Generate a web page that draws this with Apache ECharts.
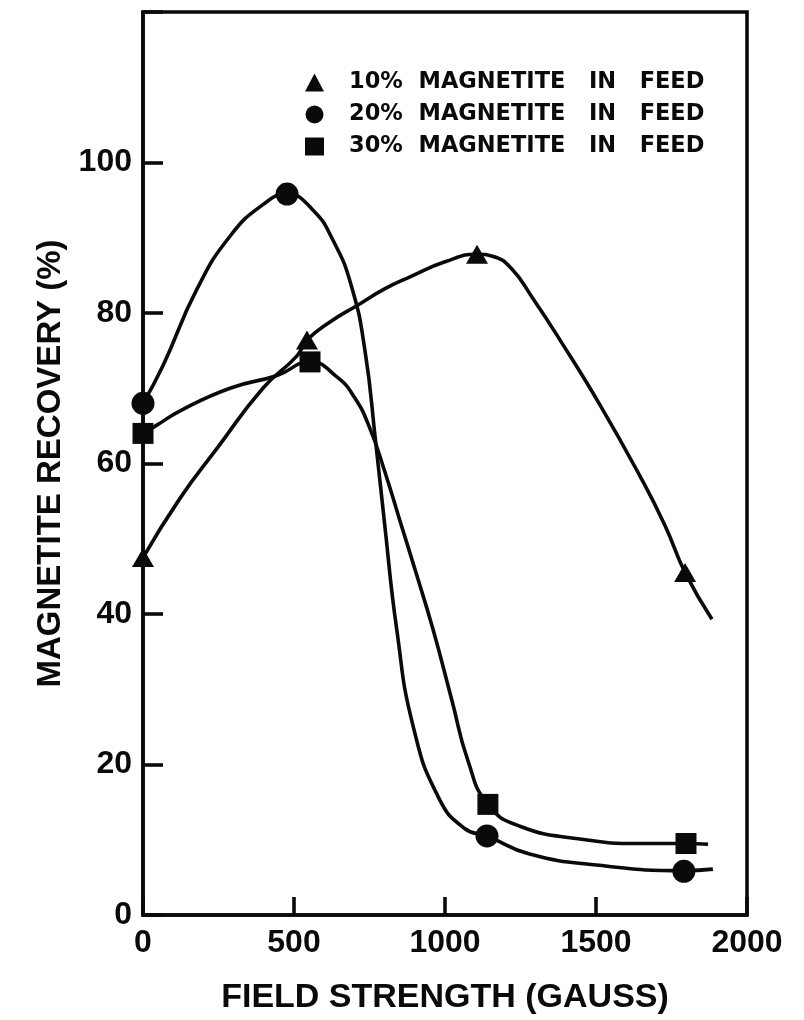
<!DOCTYPE html>
<html>
<head>
<meta charset="utf-8">
<script src="https://cdn.jsdelivr.net/npm/echarts@6/dist/echarts.min.js"></script>
<style>
  html, body { margin: 0; padding: 0; background: #ffffff; }
  #chart { width: 804px; height: 1020px; }
</style>
</head>
<body>
<div id="chart"></div>
<script>
// Axis ticks
const fieldTicks = [0, 500, 1000, 1500, 2000];
const recoveryTicks = [0, 20, 40, 60, 80, 100];
const recoveryTop = 120;

// Legend / series names and marker shapes
const seriesNames = [
  '10%  MAGNETITE   IN   FEED',
  '20%  MAGNETITE   IN   FEED',
  '30%  MAGNETITE   IN   FEED'
];
const seriesSymbols = ['triangle', 'circle', 'rect'];

// Measured points: [field strength (gauss), magnetite recovery (%)]
const feed10Points = [[0, 47.5], [543, 76.4], [1106, 87.8], [1795, 45.5]];
const feed20Points = [[0, 68.0], [477, 95.8], [1139, 10.5], [1791, 5.8]];
const feed30Points = [[0, 64.0], [553, 73.5], [1142, 14.7], [1798, 9.5]];

// Hand-fitted curves through the measurements
const feed10Curve = [
  [0, 47.5], [123, 55.4], [245, 62.0], [397, 70.0], [510, 74.3], [543, 76.4],
  [619, 78.8], [709, 81.0], [800, 83.2], [884, 84.8], [1000, 86.8], [1106, 87.8],
  [1160, 87.5], [1220, 85.9], [1290, 82.0], [1381, 76.4], [1513, 67.8],
  [1646, 58.3], [1728, 51.8], [1795, 45.5], [1884, 39.3]
];
const feed20Curve = [
  [0, 68.0], [66, 73.0], [179, 83.2], [288, 90.2], [397, 94.4], [477, 95.8],
  [560, 93.8], [630, 89.6], [690, 83.6], [735, 75.0], [770, 63.0], [800, 52.0],
  [840, 38.0], [895, 25.0], [980, 15.5], [1065, 11.5], [1139, 10.5],
  [1280, 8.1], [1510, 6.6], [1791, 5.9], [1887, 6.1]
];
const feed30Curve = [
  [0, 64.0], [46, 65.1], [123, 67.0], [288, 70.0], [444, 71.7], [553, 73.5],
  [642, 71.5], [700, 68.8], [750, 64.8], [800, 59.0], [850, 52.5], [900, 46.0],
  [960, 38.0], [1023, 28.5], [1076, 20.5], [1142, 14.7], [1248, 11.8],
  [1447, 10.1], [1646, 9.5], [1798, 9.5], [1871, 9.4]
];

const pointSets = [feed10Points, feed20Points, feed30Points];
const curveSets = [feed10Curve, feed20Curve, feed30Curve];
const symbolSizes = [[22, 19], 23, 21];

const INK = '#0a0a0a';
const numberFont = { fontFamily: 'Liberation Sans', fontWeight: 'bold', fontSize: 32, color: INK };

const series = [];
curveSets.forEach((curve, i) => {
  series.push({
    name: 'curve-' + i,
    type: 'line',
    data: curve,
    smooth: 0.5,
    showSymbol: false,
    silent: true,
    lineStyle: { color: INK, width: 3.6 },
    z: 2
  });
});
pointSets.forEach((pts, i) => {
  series.push({
    name: seriesNames[i],
    type: 'scatter',
    data: pts,
    symbol: seriesSymbols[i],
    symbolSize: symbolSizes[i],
    itemStyle: { color: INK, opacity: 1 },
    z: 3
  });
});

const chart = echarts.init(document.getElementById('chart'), null, { renderer: 'canvas' });
chart.setOption({
  backgroundColor: '#ffffff',
  animation: false,
  grid: {
    left: 143, right: 57, top: 12, bottom: 101,
    show: true, borderColor: INK, borderWidth: 3.6, backgroundColor: 'transparent'
  },
  legend: {
    data: seriesNames.map((n, i) => ({ name: n, icon: seriesSymbols[i] })),
    orient: 'vertical',
    left: 300,
    top: 66,
    itemWidth: 19,
    itemHeight: 18,
    itemGap: 9,
    selectedMode: false,
    textStyle: {
      fontFamily: 'DejaVu Sans', fontWeight: 'bold', fontSize: 22.5, color: INK,
      lineHeight: 22, padding: [0, 0, 0, 20]
    }
  },
  xAxis: {
    type: 'value',
    min: fieldTicks[0],
    max: fieldTicks[fieldTicks.length - 1],
    interval: fieldTicks[1] - fieldTicks[0],
    name: 'FIELD STRENGTH (GAUSS)',
    nameLocation: 'middle',
    nameGap: 66,
    nameTextStyle: { fontFamily: 'Liberation Sans', fontWeight: 'bold', fontSize: 34, color: INK },
    axisLine: { show: true, onZero: false, lineStyle: { color: INK, width: 3.6 } },
    axisTick: { show: true, inside: true, length: 18, lineStyle: { color: INK, width: 3.6 } },
    axisLabel: Object.assign({ margin: 12, formatter: v => String(v) }, numberFont),
    splitLine: { show: false }
  },
  yAxis: {
    type: 'value',
    min: recoveryTicks[0],
    max: recoveryTop,
    interval: recoveryTicks[1] - recoveryTicks[0],
    name: 'MAGNETITE RECOVERY (%)',
    nameLocation: 'middle',
    nameGap: 68,
    nameTextStyle: { fontFamily: 'Liberation Sans', fontWeight: 'bold', fontSize: 33, color: INK },
    axisLine: { show: true, onZero: false, lineStyle: { color: INK, width: 3.6 } },
    axisTick: { show: true, inside: true, length: 20, lineStyle: { color: INK, width: 3.6 } },
    axisLabel: Object.assign({
      margin: 11,
      formatter: v => (recoveryTicks.indexOf(v) >= 0 ? String(v) : '')
    }, numberFont),
    splitLine: { show: false }
  },
  series: series
});
</script>
</body>
</html>
